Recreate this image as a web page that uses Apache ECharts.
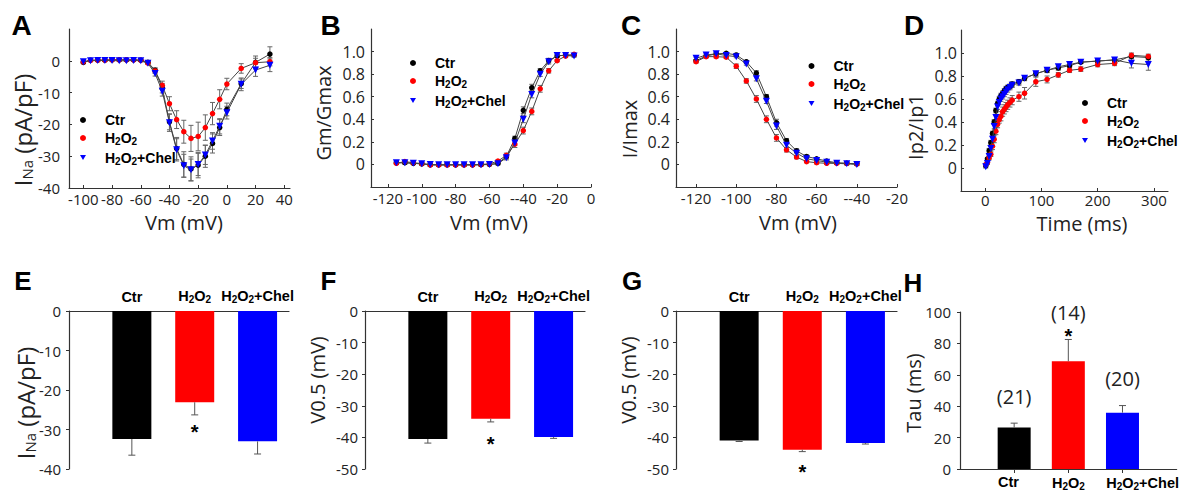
<!DOCTYPE html>
<html>
<head>
<meta charset="utf-8">
<script src="https://cdn.jsdelivr.net/npm/echarts@6.0.0/dist/echarts.min.js"></script>
<style>
html,body{margin:0;padding:0;background:#fff;}
#chart{width:1182px;height:491px;}
</style>
</head>
<body>
<div id="chart"></div>
<script>
// ---------------- DATA ----------------
const groups = ['Ctr', 'H2O2', 'H2O2+Chel'];

// A: I-V relationship
const aVm = [-100,-95,-90,-85,-80,-75,-70,-65,-60,-55,-50,-45,-40,-35,-30,-25,-20,-15,-10,-5,0,10,20,30];
const aCtr = [-0.5,0.2,0.2,0.2,0.3,0.3,0.3,0.3,0.2,-0.5,-3.0,-8.6,-19.2,-27.6,-32.6,-34.0,-32.8,-30.0,-26.0,-21.0,-15.3,-7.2,-0.5,2.1];
const aH2O2 = [-0.3,0.1,0.2,0.2,0.3,0.3,0.3,0.3,0.2,-0.7,-3.2,-7.7,-13.5,-18.5,-22.3,-24.4,-23.8,-21.0,-16.6,-12.1,-7.3,-2.4,-0.6,-0.3];
const aChel = [-0.3,0.0,0.1,0.1,0.1,0.0,0.0,0.1,0.0,-0.8,-4.0,-9.6,-19.5,-28.0,-33.0,-34.3,-32.6,-29.6,-25.2,-20.6,-16.3,-7.4,-2.9,-1.4];
const aCtrErr = [0.3,0.2,0.2,0.2,0.2,0.2,0.2,0.2,0.2,0.3,0.8,1.5,2.5,3.5,4.0,3.8,4.0,3.5,3.0,2.5,2.0,1.5,2.0,2.3];
const aH2O2Err = [0.2,0.2,0.2,0.2,0.2,0.2,0.2,0.2,0.2,0.3,0.7,1.3,2.2,2.8,3.6,4.1,4.5,4.0,3.5,3.0,1.8,1.5,1.4,1.3];
const aChelErr = [0.3,0.2,0.2,0.2,0.2,0.2,0.2,0.2,0.2,0.3,0.8,1.5,2.7,3.5,3.6,3.4,3.5,3.0,2.6,2.4,2.0,2.0,2.0,2.0];
const aXTicks = [-100,-80,-60,-40,-20,0,20,40];
const aXLabels = ['-100','-80','-60','-40','-20','0','20','40'];
const aYTicks = [0,-10,-20,-30,-40];
const aYLabels = ['0','-10','-20','-30','-40'];

// B: activation
const bVm = [-115,-110,-105,-100,-95,-90,-85,-80,-75,-70,-65,-60,-55,-50,-45,-40,-35,-30,-25,-20,-15,-10];
const bCtr = [0.015,0.015,0.01,0.005,-0.003,-0.003,-0.003,-0.003,-0.003,-0.003,-0.002,0,0.01,0.07,0.23,0.48,0.68,0.83,0.92,0.96,0.97,0.97];
const bH2O2 = [0.01,0.025,0.015,0.008,-0.005,-0.005,-0.005,-0.005,-0.005,-0.005,0,0.005,0.03,0.08,0.18,0.30,0.47,0.67,0.83,0.92,0.96,0.975];
const bChel = [0.015,0.015,0.01,0.005,0,-0.003,-0.003,-0.003,-0.003,-0.003,-0.003,0,0.005,0.06,0.19,0.40,0.62,0.80,0.91,0.965,0.965,0.96];
const bCtrErr = [0.01,0.01,0.01,0.01,0.01,0.01,0.01,0.01,0.01,0.01,0.01,0.01,0.01,0.02,0.02,0.03,0.03,0.02,0.02,0.01,0.01,0.01];
const bH2O2Err = [0.01,0.01,0.01,0.01,0.01,0.01,0.01,0.01,0.01,0.01,0.01,0.01,0.01,0.02,0.03,0.03,0.03,0.03,0.02,0.01,0.01,0.01];
const bChelErr = [0.01,0.01,0.01,0.01,0.01,0.01,0.01,0.01,0.01,0.01,0.01,0.01,0.01,0.02,0.02,0.03,0.03,0.02,0.02,0.01,0.01,0.01];
const bXTicks = [-120,-100,-80,-60,-40,-20,0];
const bXLabels = ['-120','-100','-80','-60','--40','-20','0'];

// C: inactivation
const cVm = [-120,-115,-110,-105,-100,-95,-90,-85,-80,-75,-70,-65,-60,-55,-50,-45,-40];
const cCtr = [0.92,0.96,0.98,0.985,0.97,0.91,0.81,0.60,0.37,0.21,0.12,0.07,0.05,0.03,0.015,0.01,0.005];
const cH2O2 = [0.91,0.955,0.955,0.95,0.87,0.74,0.58,0.40,0.235,0.13,0.065,0.025,0.015,0.01,0.01,0.01,0.005];
const cChel = [0.94,0.97,0.98,0.965,0.955,0.89,0.76,0.56,0.34,0.17,0.10,0.05,0.035,0.02,0.01,0.005,0.0];
const cCtrErr = [0.01,0.01,0.01,0.01,0.01,0.01,0.02,0.02,0.03,0.02,0.02,0.015,0.01,0.01,0.01,0.01,0.01];
const cH2O2Err = [0.01,0.01,0.01,0.01,0.02,0.02,0.03,0.03,0.03,0.02,0.015,0.01,0.01,0.01,0.01,0.01,0.01];
const cChelErr = [0.01,0.01,0.01,0.01,0.01,0.01,0.02,0.02,0.03,0.02,0.02,0.015,0.01,0.01,0.01,0.01,0.01];
const cXTicks = [-120,-100,-80,-60,-40,-20];
const cXLabels = ['-120','-100','-80','-60','--40','-20'];

// D: recovery from inactivation
const dTime = [1,4,7,10,13,16,19,22,25,28,31,34,37,40,44,48,60,70,90,110,130,150,170,200,230,260,290];
const dCtr = [0.02,0.08,0.15,0.22,0.30,0.40,0.50,0.56,0.60,0.63,0.65,0.67,0.69,0.70,0.71,0.73,0.75,0.78,0.82,0.85,0.87,0.89,0.92,0.93,0.94,0.97,0.96];
const dH2O2 = [0.03,0.05,0.09,0.12,0.19,0.25,0.32,0.38,0.42,0.45,0.49,0.51,0.53,0.55,0.57,0.59,0.62,0.65,0.75,0.77,0.81,0.85,0.86,0.90,0.91,0.98,0.97];
const dChel = [0.01,0.04,0.10,0.17,0.25,0.36,0.44,0.53,0.57,0.60,0.62,0.64,0.66,0.68,0.70,0.72,0.74,0.78,0.82,0.85,0.88,0.90,0.92,0.93,0.94,0.91,0.90];
const dCtrErr = [0.01,0.01,0.02,0.02,0.02,0.02,0.02,0.02,0.02,0.02,0.02,0.02,0.02,0.02,0.02,0.02,0.02,0.02,0.02,0.02,0.02,0.02,0.01,0.01,0.01,0.02,0.02];
const dH2O2Err = [0.01,0.01,0.02,0.02,0.03,0.03,0.03,0.03,0.03,0.04,0.04,0.04,0.04,0.04,0.04,0.04,0.04,0.05,0.04,0.03,0.02,0.02,0.02,0.02,0.02,0.02,0.02];
const dChelErr = [0.01,0.01,0.02,0.02,0.02,0.02,0.02,0.02,0.02,0.02,0.02,0.02,0.02,0.02,0.02,0.02,0.02,0.02,0.02,0.02,0.02,0.02,0.01,0.01,0.02,0.04,0.05];
const dXTicks = [0,100,200,300];
const dXLabels = ['0','100','200','300'];

const fracTicks = [0,0.2,0.4,0.6,0.8,1.0];
const fracLabels = ['0','0.2','0.4','0.6','0.8','1.0'];

// E: peak INa
const eVals = [-32.4,-23.1,-33.0];
const eErr = [4.1,3.2,3.2];
const eSig = [false,true,false];
const eYTicks = [0,-10,-20,-30,-40];
const eYLabels = ['0','-10','-20','-30','-40'];
// F: activation V0.5
const fVals = [-40.5,-34.1,-39.9];
const fErr = [1.3,1.0,0.4];
const fSig = [false,true,false];
// G: inactivation V0.5
const gVals = [-41.0,-43.9,-41.8];
const gErr = [0.3,0.6,0.3];
const gSig = [false,true,false];
const fgYTicks = [0,-10,-20,-30,-40,-50];
const fgYLabels = ['0','-10','-20','-30','-40','-50'];
// H: recovery tau
const hVals = [26.4,68.6,35.9];
const hErr = [2.8,13.9,4.5];
const hSig = [false,true,false];
const hN = ['(21)','(14)','(20)'];
const hYTicks = [0,20,40,60,80,100];
const hYLabels = ['0','20','40','60','80','100'];
const barPos = [1,2,3];

// ---------------- STYLE / HELPERS ----------------
const TICK_FONT = 'Open Sans';
const BOLD_FONT = 'Liberation Sans';
const AXIS_COLOR = '#333';
const TEXT_COLOR = '#222';
const markColors = ['#000000','#ff0000','#0000ff'];
const markSymbols = ['circle','circle','triangle'];
const triIcon = 'path://M0,0L10,0L5,8.7Z';
const H_LABEL_SHIFT = 0.3;   // H panel: category labels start at bar left edge

function sub(s) { return s.replace(/2/g, '{s|2}'); }
const subRich = { s: { fontSize: 10, fontWeight: 'bold', fontFamily: BOLD_FONT, color: '#000', padding: [7,0,0,0] } };

function labelFmt(ticks, labels) {
  return function (v) {
    for (let i = 0; i < ticks.length; i++) if (Math.abs(ticks[i] - v) < 1e-6) return labels[i];
    return '';
  };
}

function valueAxis(gi, min, max, ticks, labels, o) {
  o = o || {};
  const labelVals = o.labelVals || ticks;
  const ax = {
    type: 'value', gridIndex: gi, min: min, max: max, position: o.position,
    axisLine: { show: true, onZero: false, lineStyle: { color: AXIS_COLOR, width: 1.2 } },
    axisTick: { show: o.tick !== false, inside: !!o.inside, length: o.tickLen || 3, customValues: ticks, lineStyle: { color: AXIS_COLOR, width: 1 } },
    axisLabel: { show: true, customValues: labelVals, formatter: labelFmt(labelVals, labels), margin: o.margin !== undefined ? o.margin : 6,
      color: o.bold ? '#000' : TEXT_COLOR, fontFamily: o.bold ? BOLD_FONT : TICK_FONT, fontSize: o.fontSize || 15,
      fontWeight: o.bold ? 'bold' : 'normal', lineHeight: o.bold ? undefined : 16, align: o.align },
    splitLine: { show: false }
  };
  if (o.bold) ax.axisLabel.rich = subRich;
  return ax;
}

function errSeries(gi, xs, ys, es) {
  return {
    type: 'custom', xAxisIndex: gi, yAxisIndex: gi, z: 2, silent: true, animation: false,
    encode: { x: 0, y: 1 },
    data: xs.map((x, i) => [x, ys[i], es[i]]),
    renderItem: function (params, api) {
      const x = api.value(0), y = api.value(1), e = api.value(2);
      const lo = api.coord([x, y - e]), hi = api.coord([x, y + e]);
      const st = { stroke: '#666', lineWidth: 1 };
      const c = 2.5;
      return { type: 'group', children: [
        { type: 'line', shape: { x1: lo[0], y1: lo[1], x2: hi[0], y2: hi[1] }, style: st },
        { type: 'line', shape: { x1: lo[0] - c, y1: lo[1], x2: lo[0] + c, y2: lo[1] }, style: st },
        { type: 'line', shape: { x1: hi[0] - c, y1: hi[1], x2: hi[0] + c, y2: hi[1] }, style: st }
      ] };
    }
  };
}

function lineSeries(gi, k, xs, ys) {
  return {
    type: 'line', name: groups[k], xAxisIndex: gi, yAxisIndex: gi, z: 3 + k, animation: false,
    data: xs.map((x, i) => [x, ys[i]]),
    symbol: markSymbols[k], symbolSize: k === 2 ? 7 : 5.5, symbolRotate: k === 2 ? 180 : 0, showSymbol: true,
    itemStyle: { color: markColors[k] }, lineStyle: { color: '#444', width: 1 },
    emphasis: { disabled: true }
  };
}

function barSeries(gi, vals, width) {
  return {
    type: 'bar', xAxisIndex: gi, yAxisIndex: gi, barWidth: width, animation: false, z: 2,
    data: vals.map((v, i) => ({ value: [barPos[i], v], itemStyle: { color: markColors[i] } })),
    emphasis: { disabled: true }
  };
}

function barErrSeries(gi, vals, errs, sig, starGap, nLabels) {
  return {
    type: 'custom', xAxisIndex: gi, yAxisIndex: gi, z: 4, silent: true, animation: false,
    encode: { x: 0, y: 1 },
    data: vals.map((v, i) => [barPos[i], v, errs[i]]),
    renderItem: function (params, api) {
      const i = params.dataIndex;
      const x = api.value(0), v = api.value(1), e = api.value(2);
      const dir = v < 0 ? -1 : 1;
      const p0 = api.coord([x, v]), p1 = api.coord([x, v + dir * e]);
      const st = { stroke: '#555', lineWidth: 1 };
      const c = 3.5;
      const ch = [
        { type: 'line', shape: { x1: p0[0], y1: p0[1], x2: p1[0], y2: p1[1] }, style: st },
        { type: 'line', shape: { x1: p1[0] - c, y1: p1[1], x2: p1[0] + c, y2: p1[1] }, style: st }
      ];
      if (sig[i]) ch.push({ type: 'text', x: p1[0], y: p1[1] + starGap + 5,
        style: { text: '*', fill: '#000', font: 'bold 20px "Liberation Sans"', align: 'center', verticalAlign: 'middle' } });
      if (nLabels) ch.push({ type: 'text', x: p1[0], y: p1[1] - 27,
        style: { text: nLabels[i], fill: TEXT_COLOR, font: '20px "Open Sans"', align: 'center', verticalAlign: 'middle' } });
      return { type: 'group', children: ch };
    }
  };
}

function legendAt(left, top) {
  return {
    left: left, top: top, orient: 'vertical', itemWidth: 6, itemHeight: 6, itemGap: 4, selectedMode: false,
    data: [{ name: 'Ctr', icon: 'circle' }, { name: 'H2O2', icon: 'circle' }, { name: 'H2O2+Chel', icon: triIcon }],
    formatter: sub,
    textStyle: { fontFamily: BOLD_FONT, fontWeight: 'bold', fontSize: 14, color: '#000', padding: [0,0,0,14], rich: subRich },
    itemStyle: { borderWidth: 0 }
  };
}

function title(x, y, text, rot, size, rich) {
  const el = { type: 'text', x: x, y: y, rotation: rot ? Math.PI / 2 : 0, silent: true,
    style: { text: text, font: (size || 20) + 'px "Open Sans"', lineHeight: (size || 20), fill: TEXT_COLOR, align: 'center', verticalAlign: 'middle' } };
  if (rich) el.style.rich = rich;
  return el;
}
function letter(x, y, t, size) {
  return { type: 'text', x: x, y: y, silent: true,
    style: { text: t, font: 'bold ' + size + 'px "Liberation Sans"', fill: '#000', align: 'center', verticalAlign: 'middle' } };
}
const inaRich = { n: { fontSize: 15, fontFamily: 'Open Sans', fill: TEXT_COLOR, color: TEXT_COLOR, padding: [10,0,0,0] } };

// ---------------- OPTION ----------------
const grids = [
  { left: 69, top: 29, width: 221, height: 159 },
  { left: 371, top: 29, width: 220, height: 158 },
  { left: 676, top: 29, width: 221, height: 158 },
  { left: 961, top: 30, width: 207, height: 161 },
  { left: 69, top: 311, width: 220, height: 158 },
  { left: 365, top: 311, width: 220, height: 158 },
  { left: 676, top: 311, width: 221, height: 158 },
  { left: 960, top: 312, width: 221, height: 157 }
];

const catLabels = groups.map(sub);
const xAxes = [
  valueAxis(0, -110, 44, aXTicks, aXLabels, { inside: true, margin: 3 }),
  valueAxis(1, -130, 0, bXTicks, bXLabels, { inside: true, margin: 3 }),
  valueAxis(2, -130, -20, cXTicks, cXLabels, { inside: true, margin: 3 }),
  valueAxis(3, -43, 325, dXTicks, dXLabels, { inside: true, margin: 1 }),
  valueAxis(4, 0, 3.5, barPos, catLabels, { position: 'top', tick: false, bold: true, fontSize: 14.5, margin: 7 }),
  valueAxis(5, 0, 3.5, barPos, catLabels, { position: 'top', tick: false, bold: true, fontSize: 14.5, margin: 7 }),
  valueAxis(6, 0, 3.5, barPos, catLabels, { position: 'top', tick: false, bold: true, fontSize: 14.5, margin: 7 }),
  valueAxis(7, 0, 4, barPos, catLabels, { position: 'bottom', bold: true, fontSize: 14.5, margin: 5, tickLen: 4,
    labelVals: barPos.map(p => p - H_LABEL_SHIFT), align: 'left' })
];
const yAxes = [
  valueAxis(0, -40, 10, aYTicks, aYLabels, { inside: true, margin: 9 }),
  valueAxis(1, -0.2, 1.2, fracTicks, fracLabels, { inside: true, margin: 6, fontSize: 16 }),
  valueAxis(2, -0.2, 1.2, fracTicks, fracLabels, { inside: true, margin: 6, fontSize: 16 }),
  valueAxis(3, -0.2, 1.2, fracTicks, fracLabels, { inside: true, margin: 4, fontSize: 16 }),
  valueAxis(4, -40, 0, eYTicks, eYLabels, { margin: 8 }),
  valueAxis(5, -50, 0, fgYTicks, fgYLabels, { margin: 7 }),
  valueAxis(6, -50, 0, fgYTicks, fgYLabels, { margin: 7 }),
  valueAxis(7, 0, 100, hYTicks, hYLabels, { margin: 9 })
];

const linePanels = [
  { gi: 0, xs: aVm, ys: [aCtr, aH2O2, aChel], es: [aCtrErr, aH2O2Err, aChelErr] },
  { gi: 1, xs: bVm, ys: [bCtr, bH2O2, bChel], es: [bCtrErr, bH2O2Err, bChelErr] },
  { gi: 2, xs: cVm, ys: [cCtr, cH2O2, cChel], es: [cCtrErr, cH2O2Err, cChelErr] },
  { gi: 3, xs: dTime, ys: [dCtr, dH2O2, dChel], es: [dCtrErr, dH2O2Err, dChelErr] }
];
const series = [];
linePanels.forEach(p => {
  for (let k = 0; k < 3; k++) series.push(errSeries(p.gi, p.xs, p.ys[k], p.es[k]));
  for (let k = 0; k < 3; k++) series.push(lineSeries(p.gi, k, p.xs, p.ys[k]));
});
series.push(barSeries(4, eVals, 39), barErrSeries(4, eVals, eErr, eSig, 12));
series.push(barSeries(5, fVals, 39), barErrSeries(5, fVals, fErr, fSig, 17));
series.push(barSeries(6, gVals, 39), barErrSeries(6, gVals, gErr, gSig, 15));
series.push(barSeries(7, hVals, 33), barErrSeries(7, hVals, hErr, hSig, -8, hN));

const option = {
  backgroundColor: '#ffffff',
  animation: false,
  grid: grids,
  xAxis: xAxes,
  yAxis: yAxes,
  legend: [legendAt(75, 108), legendAt(405, 51), legendAt(803.5, 54), legendAt(1077, 91)],
  series: series,
  graphic: [
    letter(21.5, 25, 'A', 28), letter(330.5, 25, 'B', 28), letter(631, 25, 'C', 28), letter(914, 25, 'D', 28),
    letter(23, 281, 'E', 26), letter(328.5, 281, 'F', 26), letter(632, 281, 'G', 26), letter(913, 282.5, 'H', 26),
    title(184, 222, 'Vm (mV)'), title(489, 222, 'Vm (mV)'), title(798, 222, 'Vm (mV)'), title(1082, 223, 'Time (ms)'),
    title(22, 130, 'I{n|Na} (pA/pF)', true, 24, inaRich),
    title(323, 113, 'Gm/Gmax', true), title(629, 129, 'I/Imax', true), title(915, 127, 'Ip2/Ip1', true),
    title(25, 403, 'I{n|Na} (pA/pF)', true, 24, inaRich),
    title(317, 380, 'V0.5 (mV)', true), title(628, 380, 'V0.5 (mV)', true), title(913, 393, 'Tau (ms)', true)
  ]
};

const chart = echarts.init(document.getElementById('chart'), null, { renderer: 'svg' });
chart.setOption(option);
</script>
</body>
</html>
